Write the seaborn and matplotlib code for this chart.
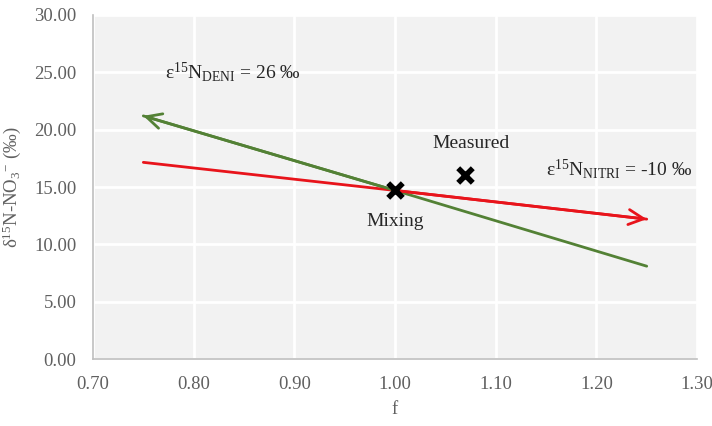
import matplotlib
matplotlib.use("Agg")
import matplotlib.pyplot as plt
import seaborn as sns
import pandas as pd

# data
red_f = [0.75, 1.00, 1.25]
red_d = [17.15, 14.70, 12.20]
green_f = [0.75, 1.00, 1.25]
green_d = [21.20, 14.70, 8.10]
mix_f = [1.00]
mix_d = [14.70]
meas_f = [1.07]
meas_d = [16.05]
xticks = [0.70, 0.80, 0.90, 1.00, 1.10, 1.20, 1.30]
yticks = [0, 5, 10, 15, 20, 25, 30]

sns.set_theme(style="whitegrid")
plt.rcParams['font.family'] = ['Liberation Serif', 'DejaVu Serif']
plt.rcParams['mathtext.fontset'] = 'custom'
plt.rcParams['mathtext.rm'] = 'Liberation Serif'
plt.rcParams['mathtext.it'] = 'Liberation Serif:italic'

fig = plt.figure(figsize=(7.12, 4.26), dpi=100)
ax = fig.add_axes([0.1306, 0.157, 0.8484, 0.808])
ax.set_facecolor('#f2f2f2')

green = '#538135'
red = '#e8141b'

sns.lineplot(x=green_f, y=green_d, ax=ax, color=green, lw=2, sort=False)
sns.lineplot(x=red_f, y=red_d, ax=ax, color=red, lw=2, sort=False)
ax.annotate('', xy=(green_f[0], green_d[0]), xytext=(green_f[1], green_d[1]),
            arrowprops=dict(arrowstyle='->,head_length=0.9,head_width=0.45', color=green, lw=2, shrinkA=0, shrinkB=0))
ax.annotate('', xy=(red_f[-1], red_d[-1]), xytext=(red_f[1], red_d[1]),
            arrowprops=dict(arrowstyle='->,head_length=0.9,head_width=0.45', color=red, lw=2, shrinkA=0, shrinkB=0))

sns.scatterplot(x=mix_f + meas_f, y=mix_d + meas_d, ax=ax, marker='x', s=110,
                color='black', linewidth=4, zorder=5)

ax.text(0.772, 25.0, r'ε$^{15}$N$_{\mathrm{DENI}}$ = 26 ‰', fontsize=14, va='center', ha='left')
ax.text(1.150, 16.6, r'ε$^{15}$N$_{\mathrm{NITRI}}$ = -10 ‰', fontsize=14, va='center', ha='left')
ax.text(1.075, 18.8, 'Measured', fontsize=14, va='center', ha='center')
ax.text(1.00, 12.0, 'Mixing', fontsize=14, va='center', ha='center')

ax.set_xlim(0.70, 1.30)
ax.set_ylim(0, 30)
ax.set_xticks(xticks)
ax.set_yticks(yticks)
ax.set_xticklabels([f'{v:.2f}' for v in xticks])
ax.set_yticklabels([f'{v:.2f}' for v in yticks])
ax.tick_params(axis='y', labelsize=13.5, colors='#606060', length=0, pad=12)
ax.tick_params(axis='x', labelsize=13.5, colors='#606060', length=0, pad=12)
ax.grid(True, color='white', lw=2)
for s in ['top', 'right']:
    ax.spines[s].set_visible(False)
for s in ['left', 'bottom']:
    ax.spines[s].set_color('#bfbfbf')
    ax.spines[s].set_linewidth(1.2)
ax.set_xlabel('f', fontsize=13.5, color='#606060', labelpad=6)
ax.set_ylabel(r'δ$^{15}$N-NO$_3$$^{-}$ (‰)', fontsize=13.5, color='#606060', labelpad=8)

fig.savefig('out.png', dpi=100)
